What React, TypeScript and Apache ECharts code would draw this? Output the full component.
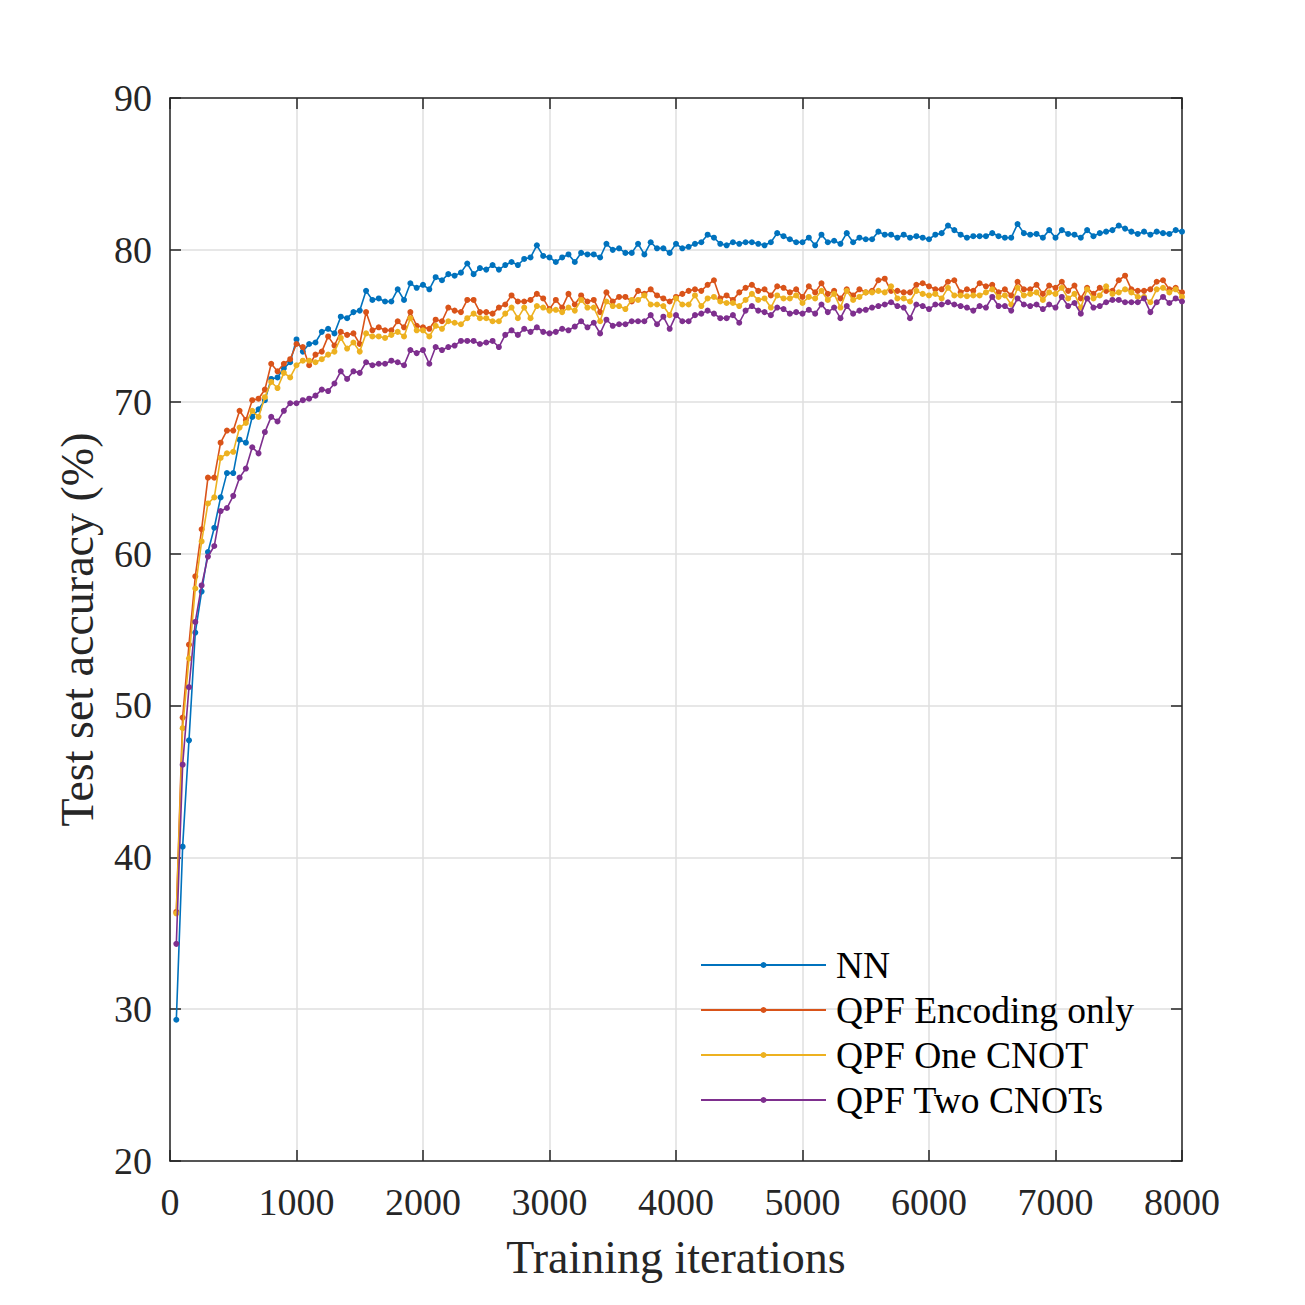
import React, { useEffect, useRef } from "react";
import * as echarts from "echarts";

// Training iterations sampled every 50 iterations (50 ... 8000)
const iterations: number[] = Array.from({ length: 160 }, (_, i) => (i + 1) * 50);

const seriesNames = ["NN", "QPF Encoding only", "QPF One CNOT", "QPF Two CNOTs"];
const seriesColors = ["#0072BD", "#D95319", "#EDB120", "#7E2F8E"];

const nnAcc = [
  29.3, 40.7, 47.7, 54.8, 57.5, 60.1, 61.7, 63.7, 65.3, 65.3,
  67.5, 67.3, 69.0, 69.5, 70.1, 71.5, 71.6, 72.2, 72.6, 74.1,
  73.3, 73.8, 73.9, 74.6, 74.8, 74.5, 75.6, 75.5, 75.9, 76.0,
  77.3, 76.7, 76.8, 76.6, 76.6, 77.4, 76.7, 77.8, 77.5, 77.7,
  77.4, 78.2, 78.0, 78.4, 78.3, 78.5, 79.1, 78.4, 78.8, 78.7,
  79.0, 78.7, 79.0, 79.2, 79.0, 79.4, 79.5, 80.3, 79.6, 79.5,
  79.2, 79.5, 79.7, 79.2, 79.8, 79.7, 79.7, 79.5, 80.4, 80.0,
  80.1, 79.8, 79.8, 80.4, 79.7, 80.5, 80.1, 80.1, 79.8, 80.4,
  80.1, 80.2, 80.4, 80.5, 81.0, 80.8, 80.4, 80.3, 80.5, 80.4,
  80.5, 80.5, 80.4, 80.3, 80.5, 81.1, 80.9, 80.7, 80.5, 80.5,
  80.8, 80.3, 81.0, 80.5, 80.6, 80.4, 81.1, 80.5, 80.8, 80.7,
  80.7, 81.2, 81.0, 81.0, 80.8, 81.0, 80.8, 80.9, 80.8, 80.7,
  81.0, 81.1, 81.6, 81.3, 81.0, 80.8, 80.9, 80.9, 80.9, 81.1,
  80.9, 80.8, 80.8, 81.7, 81.1, 81.0, 81.05, 80.8, 81.3, 80.8,
  81.3, 81.05, 81.0, 80.8, 81.3, 80.9, 81.1, 81.2, 81.3, 81.6,
  81.4, 81.2, 81.05, 81.2, 81.0, 81.2, 81.1, 81.05, 81.3, 81.2,
];

const encodingOnlyAcc = [
  36.4, 49.2, 54.0, 58.5, 61.6, 65.0, 65.0, 67.3, 68.1, 68.1,
  69.4, 68.8, 70.1, 70.2, 70.8, 72.5, 72.0, 72.5, 72.8, 73.8,
  73.6, 72.4, 73.1, 73.3, 74.3, 73.7, 74.6, 74.4, 74.5, 73.8,
  75.9, 74.7, 74.9, 74.7, 74.7, 75.3, 74.9, 75.9, 75.0, 74.9,
  74.8, 75.4, 75.3, 76.2, 76.0, 75.9, 76.7, 76.7, 75.9, 75.9,
  75.8, 76.2, 76.4, 77.0, 76.6, 76.6, 76.7, 77.1, 76.8, 76.1,
  76.7, 76.2, 77.1, 76.4, 77.0, 76.6, 76.7, 75.9, 77.2, 76.6,
  76.9, 76.9, 76.6, 77.3, 77.1, 77.4, 77.0, 76.8, 76.6, 76.9,
  77.1, 77.3, 77.4, 77.3, 77.7, 78.0, 76.8, 77.0, 76.7, 77.2,
  77.5, 77.7, 77.3, 77.4, 77.0, 77.6, 77.5, 77.2, 77.4, 76.9,
  77.6, 77.2, 77.8, 77.1, 77.3, 76.8, 77.4, 77.0, 77.4, 77.2,
  77.3, 78.0, 78.1, 77.3, 77.3, 77.2, 77.2, 77.7, 77.8, 77.6,
  77.4, 77.4, 77.9, 78.0, 77.2, 77.4, 77.3, 77.8, 77.6, 77.7,
  77.2, 77.4, 77.0, 77.9, 77.4, 77.4, 77.7, 77.1, 77.65, 77.5,
  77.9, 77.3, 77.65, 76.8, 77.5, 77.1, 77.5, 77.3, 77.3, 78.0,
  78.3, 77.4, 77.3, 77.3, 77.4, 77.9, 78.0, 77.4, 77.5, 77.2,
];

const oneCnotAcc = [
  36.3, 48.5, 53.1, 57.7, 60.8, 63.3, 63.7, 66.3, 66.6, 66.7,
  68.3, 68.6, 69.4, 69.0, 70.3, 71.3, 70.9, 71.9, 71.6, 72.4,
  72.7, 72.7, 72.6, 72.8, 73.1, 73.3, 74.2, 73.5, 73.9, 73.3,
  74.5, 74.3, 74.3, 74.2, 74.4, 74.6, 74.3, 75.5, 74.7, 74.7,
  74.3, 75.0, 74.8, 75.3, 75.2, 75.1, 75.5, 75.8, 75.5, 75.5,
  75.3, 75.3, 75.8, 76.2, 75.5, 76.2, 75.5, 76.3, 76.2, 76.0,
  76.05, 75.9, 76.2, 76.0, 76.7, 76.2, 76.2, 75.3, 76.6, 76.3,
  76.3, 76.1, 76.7, 76.7, 77.0, 76.4, 76.4, 76.3, 75.7, 76.8,
  76.4, 76.4, 77.0, 76.3, 76.8, 76.9, 76.6, 76.5, 76.5, 76.3,
  76.7, 77.1, 76.7, 76.8, 76.2, 77.0, 76.8, 76.8, 77.0, 76.5,
  76.9, 76.8, 77.3, 76.7, 77.1, 76.2, 77.3, 76.7, 76.9, 77.2,
  77.2, 77.3, 77.2, 77.6, 76.8, 76.8, 76.6, 77.3, 77.1, 77.0,
  77.1, 76.8, 77.5, 77.0, 77.0, 76.95, 77.0, 77.0, 77.2, 77.4,
  76.9, 77.0, 76.4, 77.5, 77.0, 77.1, 77.2, 76.7, 77.2, 77.1,
  77.5, 76.8, 77.1, 76.2, 77.4, 76.8, 77.0, 77.6, 77.1, 77.2,
  77.4, 77.2, 76.9, 76.9, 76.55, 77.4, 77.5, 77.2, 77.4, 76.9,
];

const twoCnotsAcc = [
  34.3, 46.1, 51.2, 55.5, 57.9, 59.8, 60.5, 62.8, 63.0, 63.8,
  65.0, 65.6, 67.0, 66.6, 68.0, 69.0, 68.7, 69.4, 69.9, 69.9,
  70.1, 70.2, 70.4, 70.8, 70.7, 71.2, 72.0, 71.5, 72.0, 71.9,
  72.6, 72.4, 72.5, 72.5, 72.7, 72.6, 72.4, 73.4, 73.2, 73.4,
  72.5, 73.6, 73.4, 73.6, 73.7, 74.0, 74.0, 74.0, 73.8, 73.9,
  74.0, 73.6, 74.4, 74.7, 74.4, 74.8, 74.6, 74.9, 74.6, 74.5,
  74.6, 74.8, 74.7, 74.95, 75.3, 74.9, 75.2, 74.5, 75.4, 75.0,
  75.1, 75.1, 75.3, 75.3, 75.3, 75.7, 75.1, 75.6, 74.8, 75.7,
  75.3, 75.3, 75.7, 75.8, 76.0, 75.8, 75.5, 75.5, 75.7, 75.2,
  76.0, 76.3, 76.0, 75.9, 75.7, 76.2, 76.1, 75.8, 75.9, 75.8,
  76.05, 75.8, 76.4, 75.9, 76.2, 75.5, 76.3, 75.8, 76.0, 76.05,
  76.2, 76.3, 76.4, 76.55, 76.3, 76.2, 75.5, 76.4, 76.3, 76.1,
  76.4, 76.4, 76.55, 76.4, 76.3, 76.2, 76.0, 76.3, 76.2, 76.9,
  76.3, 76.3, 76.0, 76.8, 76.4, 76.3, 76.4, 76.1, 76.4, 76.2,
  76.9, 76.3, 76.5, 75.8, 76.8, 76.2, 76.3, 76.55, 76.7, 76.7,
  76.55, 76.55, 76.55, 76.8, 75.9, 76.55, 76.9, 76.5, 76.8, 76.6,
];

const allSeries = [nnAcc, encodingOnlyAcc, oneCnotAcc, twoCnotsAcc];

const FONT = "'Liberation Serif', 'Times New Roman', serif";
const AXIS_COLOR = "#262626";

export default function App() {
  const ref = useRef<HTMLDivElement>(null);

  useEffect(() => {
    document.body.style.margin = "0";
    if (!ref.current) return;
    const chart = echarts.init(ref.current, undefined, { renderer: "svg" });

    const axisLine = { show: true, onZero: false, lineStyle: { color: AXIS_COLOR, width: 1.5 } };
    const axisTick = { show: true, inside: true, length: 11, lineStyle: { color: AXIS_COLOR, width: 1.5 } };
    const splitLine = { show: true, lineStyle: { color: "#DFDFDF", width: 1.5 } };
    const plain = (v: number) => String(v);

    const option: any = {
      animation: false,
      backgroundColor: "#ffffff",
      grid: { left: 170, right: 123, top: 98, bottom: 144, containLabel: false },
      legend: {
        show: true,
        orient: "vertical",
        left: 700,
        top: 946,
        padding: 0,
        itemWidth: 125,
        itemHeight: 7.5,
        itemGap: 7,
        data: seriesNames,
        textStyle: { fontFamily: FONT, fontSize: 37.5, color: "#000000", padding: [0, 0, 0, 5] },
      },
      xAxis: [
        {
          type: "value",
          position: "bottom",
          min: 0,
          max: 8000,
          interval: 1000,
          axisLine,
          axisTick,
          splitLine,
          axisLabel: { fontFamily: FONT, fontSize: 38, color: AXIS_COLOR, margin: 22, formatter: plain },
          name: "Training iterations",
          nameLocation: "middle",
          nameGap: 73,
          nameTextStyle: { fontFamily: FONT, fontSize: 46, color: AXIS_COLOR },
        },
        {
          type: "value",
          position: "top",
          min: 0,
          max: 8000,
          interval: 1000,
          axisLine,
          axisTick,
          splitLine: { show: false },
          axisLabel: { show: false },
        },
      ],
      yAxis: [
        {
          type: "value",
          position: "left",
          min: 20,
          max: 90,
          interval: 10,
          axisLine,
          axisTick,
          splitLine,
          axisLabel: { fontFamily: FONT, fontSize: 38, color: AXIS_COLOR, margin: 18, formatter: plain },
          name: "Test set accuracy (%)",
          nameLocation: "middle",
          nameRotate: 90,
          nameGap: 70,
          nameTextStyle: { fontFamily: FONT, fontSize: 46, color: AXIS_COLOR },
        },
        {
          type: "value",
          position: "right",
          min: 20,
          max: 90,
          interval: 10,
          axisLine,
          axisTick,
          splitLine: { show: false },
          axisLabel: { show: false },
        },
      ],
      series: allSeries.map((vals, i) => ({
        name: seriesNames[i],
        type: "line",
        xAxisIndex: 0,
        yAxisIndex: 0,
        data: vals.map((v, j) => [iterations[j], v]),
        symbol: "circle",
        symbolSize: 6,
        showSymbol: true,
        showAllSymbol: true,
        lineStyle: { color: seriesColors[i], width: 1.6 },
        itemStyle: { color: seriesColors[i] },
        emphasis: { disabled: true },
        z: 2 + i,
      })),
    };

    chart.setOption(option);
    return () => chart.dispose();
  }, []);

  return <div ref={ref} style={{ width: "1305px", height: "1305px" }} />;
}
